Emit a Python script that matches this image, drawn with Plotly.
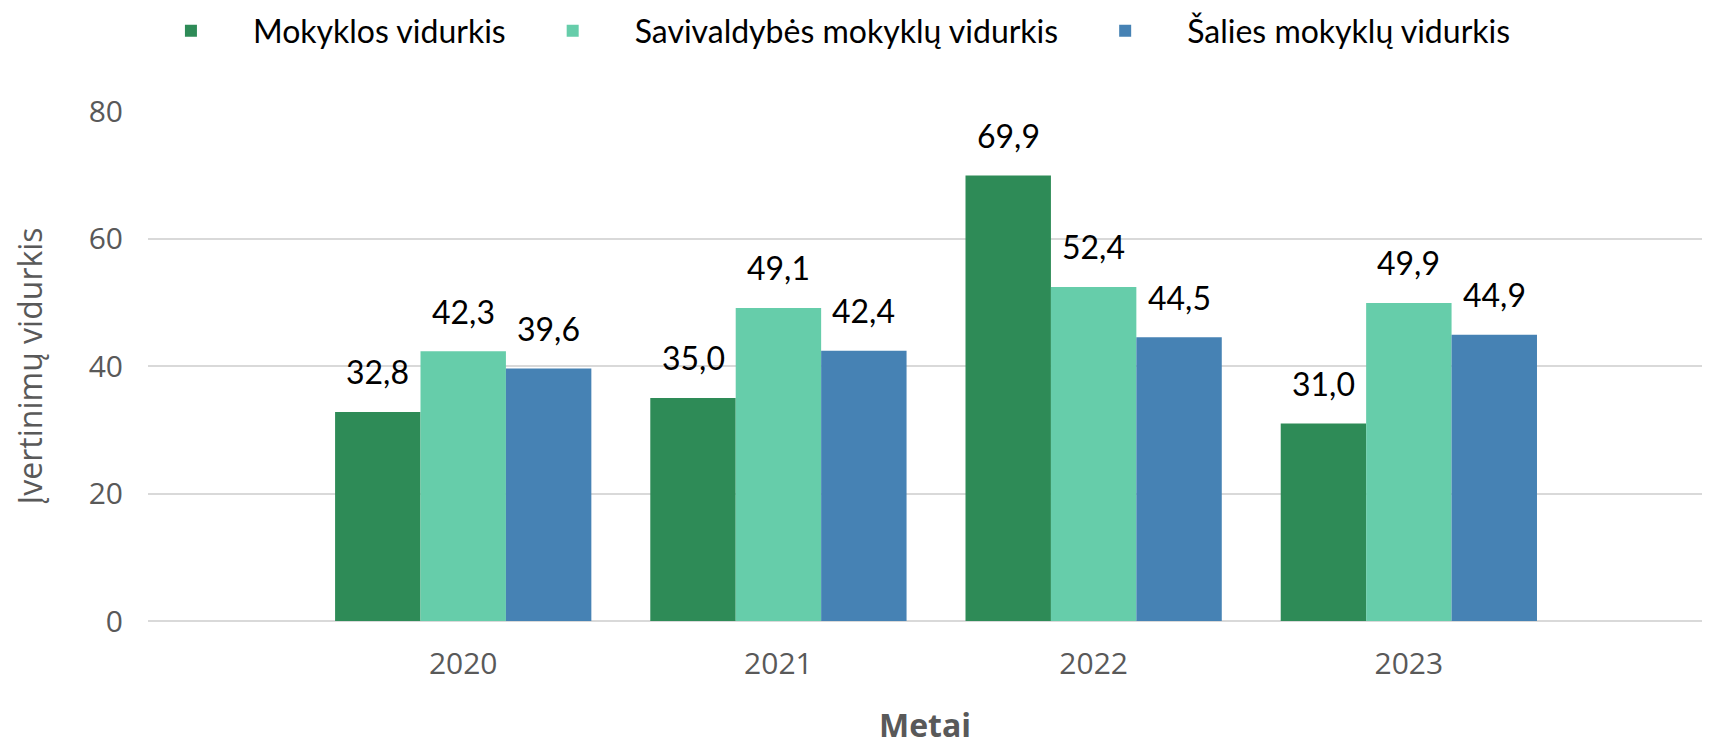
import plotly.graph_objects as go

years = ["2020", "2021", "2022", "2023"]
series_names = ["Mokyklos vidurkis", "Savivaldybės mokyklų vidurkis", "Šalies mokyklų vidurkis"]
mokyklos = [32.8, 35.0, 69.9, 31.0]
savivaldybes = [42.3, 49.1, 52.4, 49.9]
salies = [39.6, 42.4, 44.5, 44.9]
y_ticks = [0, 20, 40, 60, 80]

colors = ["#2E8B57", "#66CDAA", "#4682B4"]
# page body has an 8px margin, so the figure is sized to fit the window
W, H = 1716, 738
ML, MR, MT, MB = 140, 22, 103, 125
x_range = [-1, 3.93]
bargap = 0.187
cat_px = (W - ML - MR) / (x_range[1] - x_range[0])
bar_px = cat_px * (1 - bargap) / 3

grey = "#595959"
fig = go.Figure()
for i, (name, vals) in enumerate(zip(series_names, [mokyklos, savivaldybes, salies])):
    fig.add_trace(go.Bar(x=years, y=vals, name=name,
                         marker=dict(color=colors[i], line=dict(width=0))))
    for k, v in enumerate(vals):
        fig.add_annotation(x=k, y=v, xref="x", yref="y",
                           text=f"{v:.1f}".replace(".", ","), showarrow=False,
                           xshift=(i - 1) * bar_px, yshift=40, yanchor="middle",
                           font=dict(family="Lato", size=32, color="#000000"))

fig.update_layout(
    width=W, height=H,
    margin=dict(l=ML, r=MR, t=MT, b=MB, autoexpand=False),
    paper_bgcolor="white", plot_bgcolor="white",
    barmode="group", bargap=bargap, bargroupgap=0,
    legend=dict(orientation="h", x=0.434, xanchor="center", y=1.157, yanchor="middle",
                font=dict(family="Lato", size=32, color="#000000"),
                itemwidth=114, borderwidth=0),
    xaxis=dict(type="category", range=x_range, showgrid=False, zeroline=False,
               showline=False, ticks="", ticklabelstandoff=22,
               tickfont=dict(family="Open Sans", size=30, color=grey),
               title=dict(text="<b>Metai</b>", standoff=33,
                          font=dict(family="Open Sans", size=32, color=grey))),
    yaxis=dict(range=[0, 80], tickvals=y_ticks, showgrid=True, gridcolor="#D9D9D9",
               gridwidth=2, zeroline=True, zerolinecolor="#D9D9D9", zerolinewidth=2,
               showline=False, ticks="", ticklabelstandoff=24,
               tickfont=dict(family="Open Sans", size=30, color=grey),
               title=dict(text="Įvertinimų vidurkis", standoff=36,
                          font=dict(family="Open Sans", size=32, color=grey))),
)
fig.write_html("out.html")
